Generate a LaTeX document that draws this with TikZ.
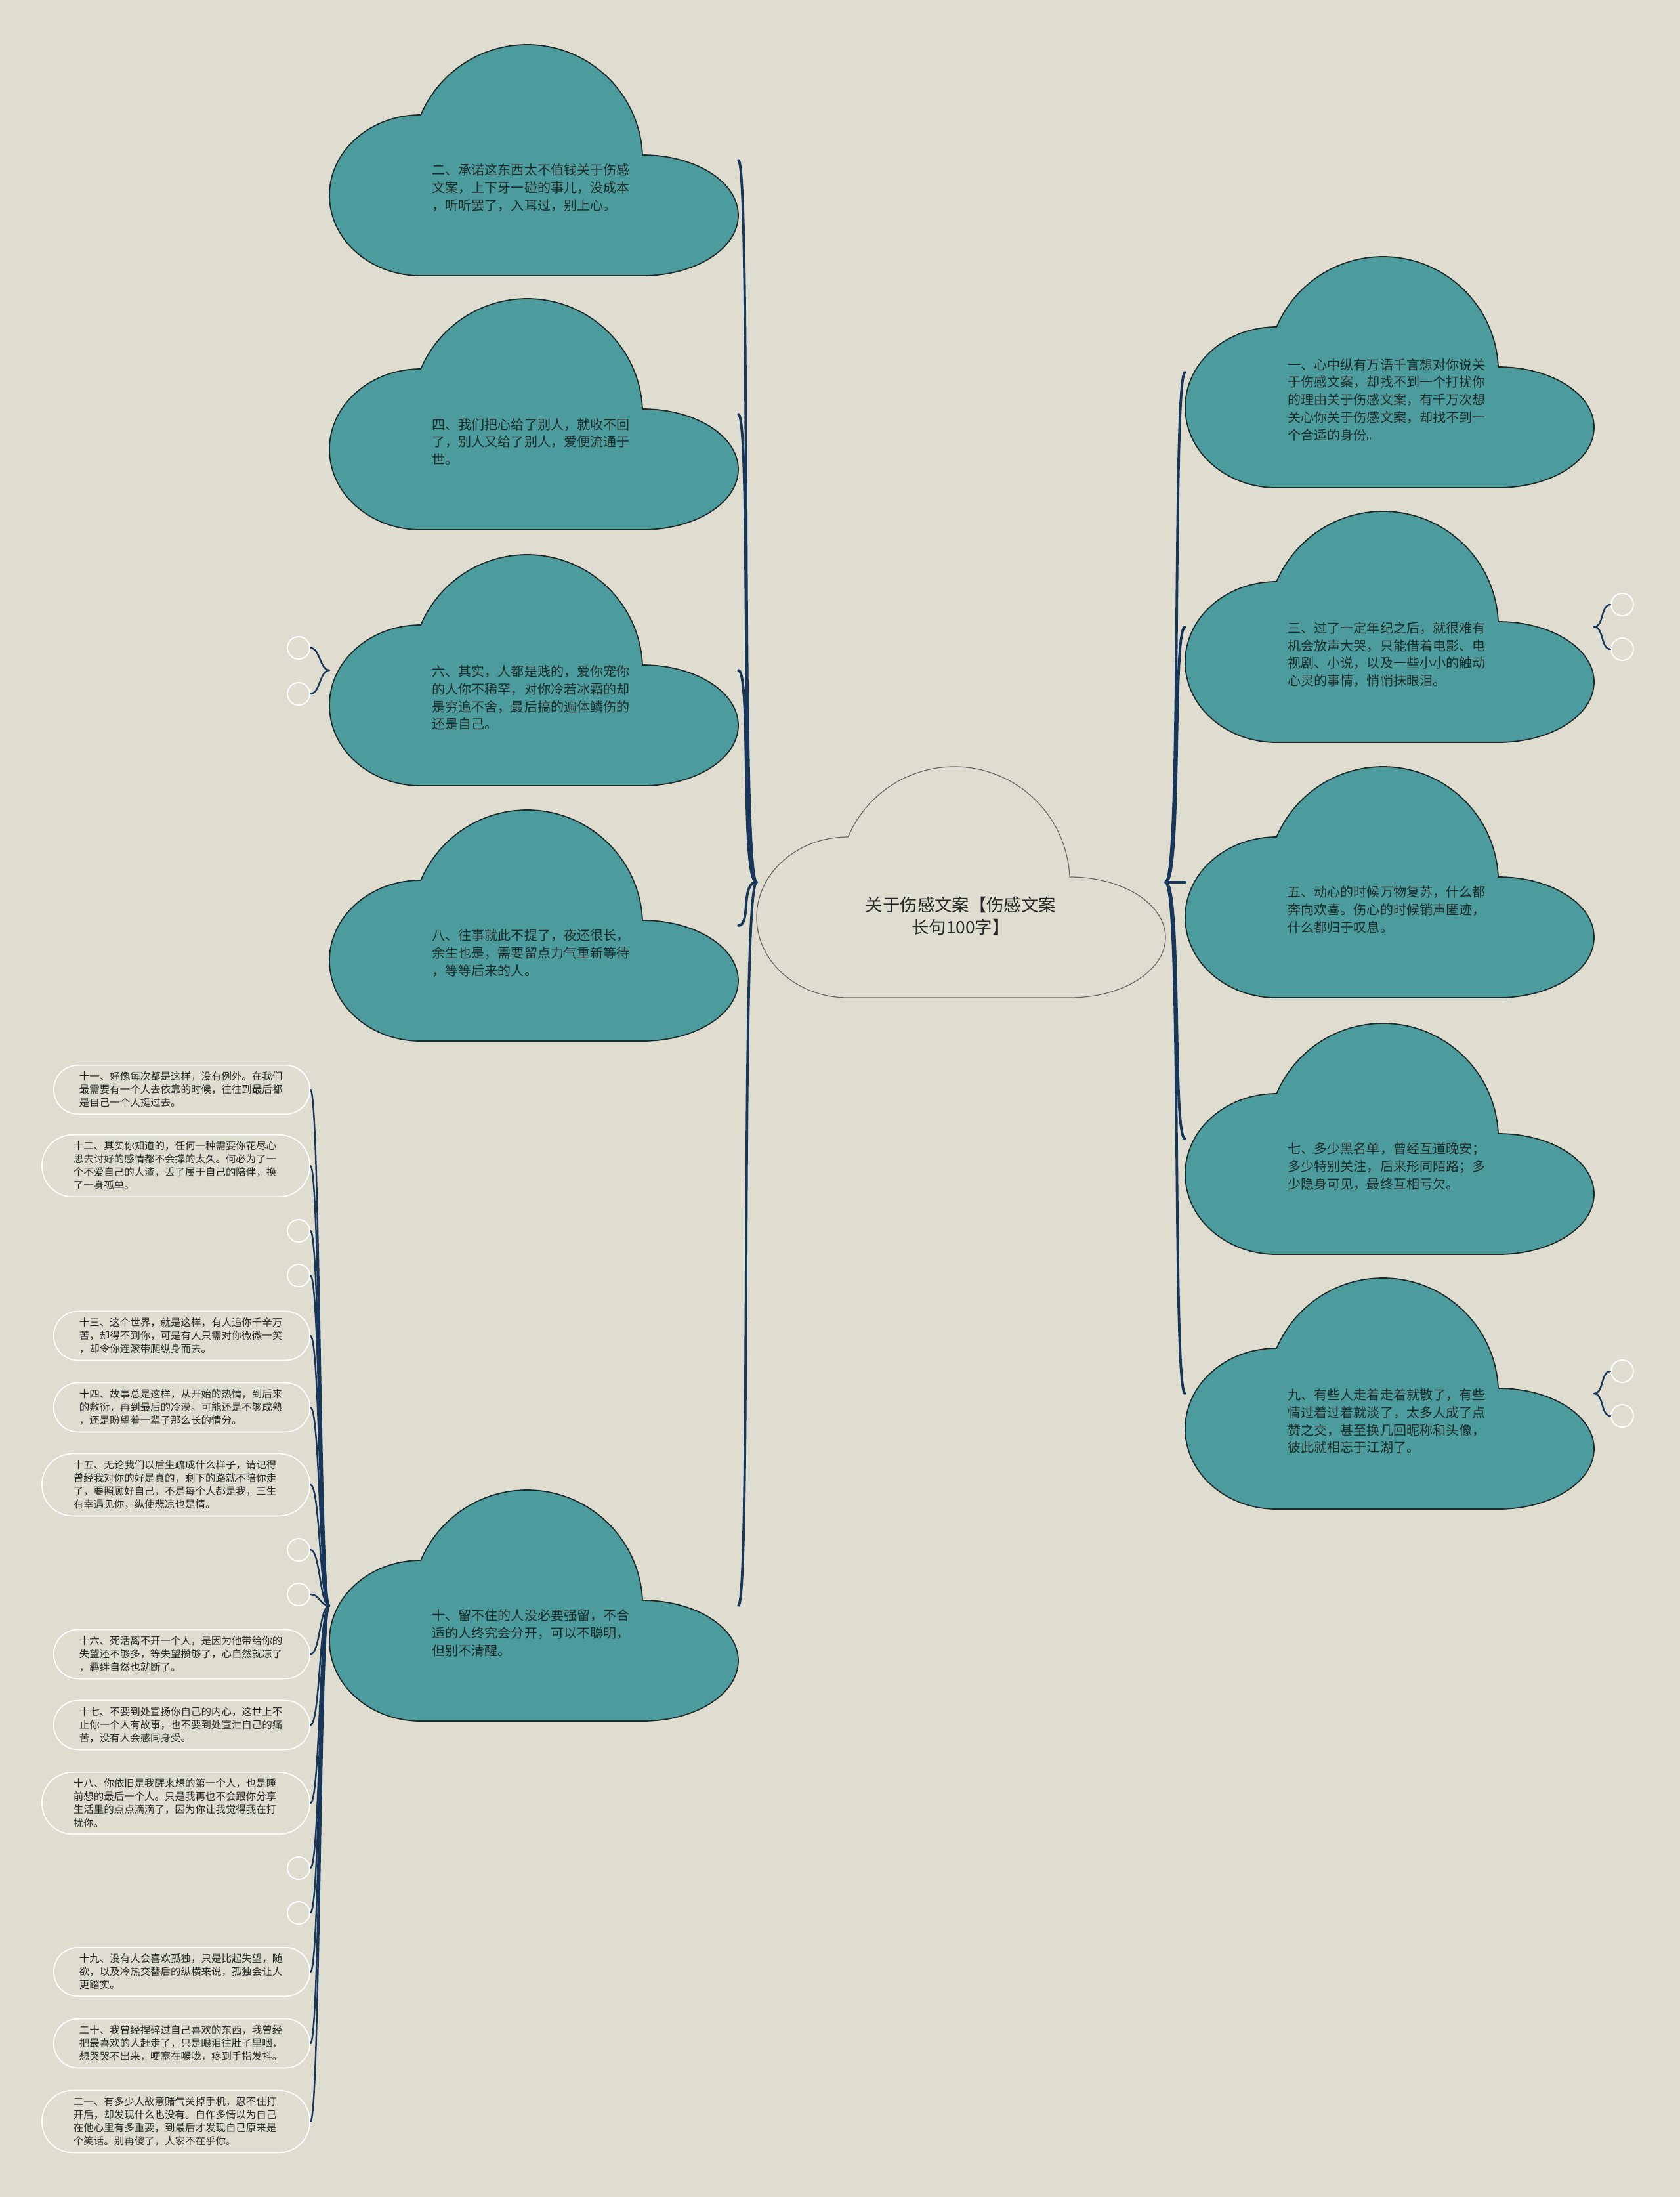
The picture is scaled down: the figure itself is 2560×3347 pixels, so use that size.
\documentclass[tikz,border=0pt]{standalone}
\usepackage{fontspec}
\setmainfont{Noto Sans CJK SC}
\definecolor{achtergrond}{HTML}{DFDDCF}
\definecolor{wolkvul}{HTML}{4C9C9D}
\definecolor{wolklijn}{HTML}{1E2A2A}
\definecolor{taklijn}{HTML}{173659}
\definecolor{tekstkleur}{HTML}{1F2C2C}

\tikzset{
  wolkpad/.style={insert path={(139,107)
    arc[start angle=270, end angle=90, x radius=139, y radius=122.5] -- ++(338,0)
    arc[start angle=90, end angle=-90, x radius=146, y radius=92]
    arc[start angle=-2.6, end angle=-156.8, radius=176] -- cycle}},
  wolkvorm/.style={fill=wolkvul, draw=wolklijn, line width=0.5pt},
  kernvorm/.style={fill=achtergrond, draw=black!60, line width=0.35pt},
  wolktekst/.style={anchor=west, align=left, inner sep=0, text=tekstkleur,
    font=\fontsize{5.7}{7.6}\selectfont},
  kerntekst/.style={align=center, inner sep=0, text=black!85,
    font=\fontsize{7.5}{9.7}\selectfont},
  pics/wolk/.style={code={
    \path[wolkvorm, wolkpad];
    \node[wolktekst] (-t) at (156,218) {#1};
    \coordinate (-w) at (0,176);
    \coordinate (-e) at (623,176);
  }},
  pics/kernwolk/.style={code={
    \path[kernvorm, wolkpad];
    \node[kerntekst] (-t) at (311,227) {#1};
    \coordinate (-w) at (0,176);
    \coordinate (-e) at (623,176);
  }}
}

\begin{document}
\begin{tikzpicture}[x=0.01cm, y=-0.01cm,
  kader/.style={rectangle, rounded corners=0.37cm, draw=white, line width=0.5pt,
    anchor=east, text width=3.12cm, align=left, inner xsep=0.39cm, inner ysep=0.1cm,
    text=black!85, font=\fontsize{4.4}{5.7}\selectfont},
  kader4/.style={kader, rounded corners=0.47cm, inner xsep=0.48cm},
  rondje/.style={circle, draw=white, line width=0.55pt, minimum size=0.34cm, inner sep=0},
  tak/.style={draw=taklijn, line width=1.1pt, line cap=round},
  fijntak/.style={draw=taklijn, line width=0.7pt, line cap=round}
]
\fill[achtergrond] (0,0) rectangle (2560,3347);

% midden
\pic (m) at (1153,1168) {kernwolk={关于伤感文案【伤感文案\\长句100字】}};

% linkerkant
\pic (l1) at (502,68) {wolk={二、承诺这东西太不值钱关于伤感\\文案，上下牙一碰的事儿，没成本\\，听听罢了，入耳过，别上心。}};
\pic (l2) at (502,455) {wolk={四、我们把心给了别人，就收不回\\了，别人又给了别人，爱便流通于\\世。}};
\pic (l3) at (502,845) {wolk={六、其实，人都是贱的，爱你宠你\\的人你不稀罕，对你冷若冰霜的却\\是穷追不舍，最后搞的遍体鳞伤的\\还是自己。}};
\pic (l4) at (502,1234) {wolk={八、往事就此不提了，夜还很长，\\余生也是，需要留点力气重新等待\\，等等后来的人。}};
\pic (l5) at (502,2270) {wolk={十、留不住的人没必要强留，不合\\适的人终究会分开，可以不聪明，\\但别不清醒。}};

% rechterkant
\pic (r1) at (1806,391) {wolk={一、心中纵有万语千言想对你说关\\于伤感文案，却找不到一个打扰你\\的理由关于伤感文案，有千万次想\\关心你关于伤感文案，却找不到一\\个合适的身份。}};
\pic (r2) at (1806,779) {wolk={三、过了一定年纪之后，就很难有\\机会放声大哭，只能借着电影、电\\视剧、小说，以及一些小小的触动\\心灵的事情，悄悄抹眼泪。}};
\pic (r3) at (1806,1168) {wolk={五、动心的时候万物复苏，什么都\\奔向欢喜。伤心的时候销声匿迹，\\什么都归于叹息。}};
\pic (r4) at (1806,1559) {wolk={七、多少黑名单，曾经互道晚安；\\多少特别关注，后来形同陌路；多\\少隐身可见，最终互相亏欠。}};
\pic (r5) at (1806,1947) {wolk={九、有些人走着走着就散了，有些\\情过着过着就淡了，太多人成了点\\赞之交，甚至换几回昵称和头像，\\彼此就相忘于江湖了。}};

% lege rondjes
\node[rondje] (o1) at (455,987) {};
\node[rondje] (o2) at (455,1057) {};
\node[rondje] (o3) at (2472,921) {};
\node[rondje] (o4) at (2472,989) {};
\node[rondje] (o5) at (2472,2089) {};
\node[rondje] (o6) at (2472,2157) {};
\node[rondje] (o7) at (455,1875) {};
\node[rondje] (o8) at (455,1943) {};
\node[rondje] (o9) at (455,2361) {};
\node[rondje] (o10) at (455,2429) {};
\node[rondje] (o11) at (455,2846) {};
\node[rondje] (o12) at (455,2914) {};

% kaders onder tien
\node[kader] (b11) at (473,1660) {十一、好像每次都是这样，没有例外。在我们\\最需要有一个人去依靠的时候，往往到最后都\\是自己一个人挺过去。};
\node[kader4] (b12) at (473,1776) {十二、其实你知道的，任何一种需要你花尽心\\思去讨好的感情都不会撑的太久。何必为了一\\个不爱自己的人渣，丢了属于自己的陪伴，换\\了一身孤单。};
\node[kader] (b13) at (473,2035) {十三、这个世界，就是这样，有人追你千辛万\\苦，却得不到你，可是有人只需对你微微一笑\\，却令你连滚带爬纵身而去。};
\node[kader] (b14) at (473,2144) {十四、故事总是这样，从开始的热情，到后来\\的敷衍，再到最后的冷漠。可能还是不够成熟\\，还是盼望着一辈子那么长的情分。};
\node[kader4] (b15) at (473,2262) {十五、无论我们以后生疏成什么样子，请记得\\曾经我对你的好是真的，剩下的路就不陪你走\\了，要照顾好自己，不是每个人都是我，三生\\有幸遇见你，纵使悲凉也是情。};
\node[kader] (b16) at (473,2520) {十六、死活离不开一个人，是因为他带给你的\\失望还不够多，等失望攒够了，心自然就凉了\\，羁绊自然也就断了。};
\node[kader] (b17) at (473,2628) {十七、不要到处宣扬你自己的内心，这世上不\\止你一个人有故事，也不要到处宣泄自己的痛\\苦，没有人会感同身受。};
\node[kader4] (b18) at (473,2747) {十八、你依旧是我醒来想的第一个人，也是睡\\前想的最后一个人。只是我再也不会跟你分享\\生活里的点点滴滴了，因为你让我觉得我在打\\扰你。};
\node[kader] (b19) at (473,3004) {十九、没有人会喜欢孤独，只是比起失望，随\\欲，以及冷热交替后的纵横来说，孤独会让人\\更踏实。};
\node[kader] (b20) at (473,3113) {二十、我曾经捏碎过自己喜欢的东西，我曾经\\把最喜欢的人赶走了，只是眼泪往肚子里咽，\\想哭哭不出来，哽塞在喉咙，疼到手指发抖。};
\node[kader4] (b21) at (473,3232) {二一、有多少人故意赌气关掉手机，忍不住打\\开后，却发现什么也没有。自作多情以为自己\\在他心里有多重要，到最后才发现自己原来是\\个笑话。别再傻了，人家不在乎你。};

% takken
\foreach \d in {l1,l2,l3,l4,l5}
  \draw[tak] (m-w) .. controls +(-25,0) and +(20,0) .. (\d-e);
\foreach \d in {r1,r2,r3,r4,r5}
  \draw[tak] (m-e) .. controls +(25,0) and +(-20,0) .. (\d-w);
\foreach \k in {b11,b12,o7,o8,b13,b14,b15,o9,o10,b16,b17,b18,o11,o12,b19,b20,b21}
  \draw[fijntak] (l5-w) .. controls +(-15,0) and +(15,0) .. (\k.east);
\foreach \k in {o1,o2}
  \draw[fijntak] (l3-w) .. controls +(-15,0) and +(15,0) .. (\k.east);
\foreach \k in {o3,o4}
  \draw[fijntak] (r2-e) .. controls +(15,0) and +(-15,0) .. (\k.west);
\foreach \k in {o5,o6}
  \draw[fijntak] (r5-e) .. controls +(15,0) and +(-15,0) .. (\k.west);
\end{tikzpicture}
\end{document}
